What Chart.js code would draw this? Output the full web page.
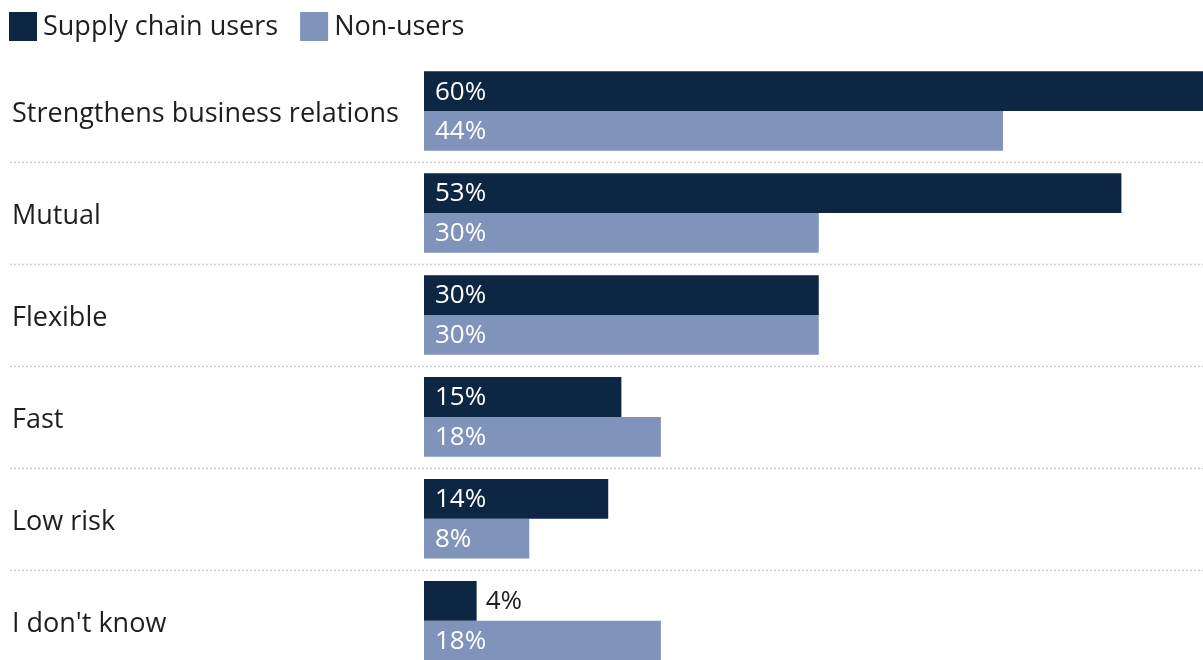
<!DOCTYPE html>
<html>
<head>
<meta charset="utf-8">
<script src="https://cdn.jsdelivr.net/npm/chart.js@4.4.1/dist/chart.umd.min.js"></script>
<style>
  html, body { margin: 0; padding: 0; background: #fff; overflow: hidden; }
  #wrap { width: 1203px; height: 691px; }
</style>
</head>
<body>
<div id="wrap"><canvas id="benefitsChart"></canvas></div>
<script>
// Survey answers per group (%)
const categories = [
  "Strengthens business relations",
  "Mutual",
  "Flexible",
  "Fast",
  "Low risk",
  "I don't know"
];
const supplyChainUsers = [60, 53, 30, 15, 14, 4];
const nonUsers = [44, 30, 30, 18, 8, 18];
const seriesNames = ["Supply chain users", "Non-users"];
const seriesColors = ["#0c2644", "#7f93bb"];

const FONT = "'Open Sans', Lato, sans-serif";

// dotted rules between the category rows, running under the labels too
const rowSeparators = {
  id: "rowSeparators",
  beforeDatasetsDraw(chart) {
    const { ctx } = chart;
    const y = chart.scales.y;
    ctx.save();
    ctx.strokeStyle = "#cfcfcf";
    ctx.lineWidth = 1.5;
    ctx.setLineDash([2, 2]);
    for (let i = 0; i < categories.length - 1; i++) {
      const py = Math.round((y.getPixelForValue(i) + y.getPixelForValue(i + 1)) / 2) + 0.5;
      ctx.beginPath();
      ctx.moveTo(10, py);
      ctx.lineTo(chart.width, py);
      ctx.stroke();
    }
    ctx.restore();
  }
};

// percent labels: inside the bar start, or just past the end if the bar is too short
const valueLabels = {
  id: "valueLabels",
  afterDatasetsDraw(chart) {
    const { ctx } = chart;
    ctx.save();
    ctx.font = `26px ${FONT}`;
    ctx.textBaseline = "middle";
    ctx.textAlign = "left";
    chart.data.datasets.forEach((ds, di) => {
      chart.getDatasetMeta(di).data.forEach((bar, i) => {
        const txt = ds.data[i] + "%";
        const w = ctx.measureText(txt).width;
        if (bar.x - bar.base >= w + 20) {
          ctx.fillStyle = "#ffffff";
          ctx.fillText(txt, bar.base + 11, bar.y + 1);
        } else {
          ctx.fillStyle = "#1e1e1e";
          ctx.fillText(txt, bar.x + 9, bar.y + 1);
        }
      });
    });
    ctx.restore();
  }
};

// square swatch legend along the top
const topLegend = {
  id: "topLegend",
  afterDraw(chart) {
    const { ctx } = chart;
    ctx.save();
    ctx.font = `27px ${FONT}`;
    ctx.textBaseline = "middle";
    ctx.textAlign = "left";
    let x = 9;
    chart.data.datasets.forEach(ds => {
      ctx.fillStyle = ds.backgroundColor;
      ctx.fillRect(x, 12, 28, 29);
      ctx.fillStyle = "#1e1e1e";
      ctx.fillText(ds.label, x + 34, 27);
      x += 34 + ctx.measureText(ds.label).width + 22;
    });
    ctx.restore();
  }
};

new Chart(document.getElementById("benefitsChart"), {
  type: "bar",
  data: {
    labels: categories,
    datasets: [
      { label: seriesNames[0], data: supplyChainUsers, backgroundColor: seriesColors[0] },
      { label: seriesNames[1], data: nonUsers, backgroundColor: seriesColors[1] }
    ]
  },
  options: {
    indexAxis: "y",
    responsive: true,
    maintainAspectRatio: false,
    animation: false,
    layout: { padding: { left: 12, top: 60, right: 0, bottom: 0 } },
    datasets: {
      bar: { barPercentage: 1, categoryPercentage: 0.78, borderWidth: 0 }
    },
    scales: {
      x: { display: false, min: 0, max: 59.2 },
      y: {
        grid: { display: false },
        border: { display: false },
        ticks: {
          autoSkip: false,
          crossAlign: "far",
          labelOffset: 3,
          color: "#1e1e1e",
          font: { family: FONT, size: 27 }
        },
        afterFit(scale) { scale.width = 412; }
      }
    },
    plugins: {
      legend: { display: false },
      tooltip: { enabled: false }
    }
  },
  plugins: [rowSeparators, valueLabels, topLegend]
});
</script>
</body>
</html>
